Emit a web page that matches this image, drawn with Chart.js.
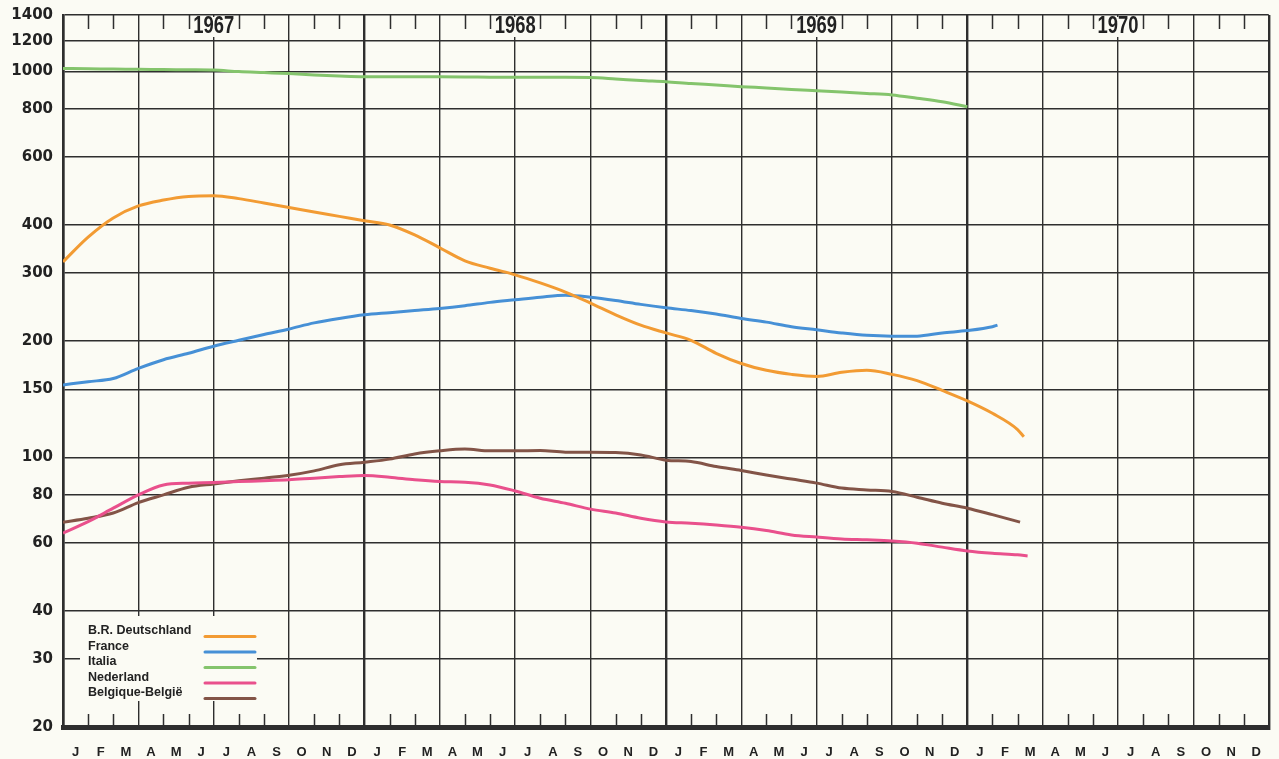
<!DOCTYPE html>
<html>
<head>
<meta charset="utf-8">
<script src="https://cdn.jsdelivr.net/npm/chart.js@4"></script>
<style>
  html, body { margin: 0; padding: 0; background: #fbfbf4; }
  canvas { display: block; }
</style>
</head>
<body>
<canvas id="chart" width="1279" height="759"></canvas>
<script>
// Years shown across the top, month initials along the bottom
const years = ['1967', '1968', '1969', '1970'];
const monthLetters = ['J', 'F', 'M', 'A', 'M', 'J', 'J', 'A', 'S', 'O', 'N', 'D'];
const yTicks = [20, 30, 40, 60, 80, 100, 150, 200, 300, 400, 600, 800, 1000, 1200, 1400];

// Monthly values; point i sits at month i (0 = start of January 1967)
const deutschland = [321, 372, 417, 448, 464, 474, 476, 468, 456, 444, 432, 421, 410, 400, 377, 349,
  323, 309, 297, 283, 268, 251, 234, 220, 210, 201, 186, 175, 168, 164, 162, 166, 168, 164, 158,
  149, 140, 130, 118, 113];
const france = [154, 157, 160, 170, 179, 186, 194, 201, 208, 215, 223, 229, 234, 237, 240, 243,
  247, 252, 256, 260, 263, 260, 255, 249, 244, 240, 235, 229, 224, 218, 214, 210, 207, 206, 206,
  210, 213, 218, 220];
const italia = [1017, 1016, 1014, 1013, 1011, 1010, 1008, 999, 993, 987, 979, 973, 969, 969, 969,
  968, 967, 966, 965, 965, 965, 964, 956, 947, 940, 930, 922, 913, 906, 898, 891, 884, 877, 869,
  852, 834, 810];
const nederland = [63.6, 68.1, 73.8, 79.9, 84.8, 85.7, 86.0, 86.5, 86.9, 87.4, 88.3, 89.1, 89.7,
  88.8, 87.4, 86.5, 86.2, 84.8, 81.8, 78.3, 76.0, 73.4, 71.7, 69.5, 68.0, 67.5, 66.8, 65.9, 64.6,
  62.9, 62.1, 61.4, 61.1, 60.7, 59.9, 58.5, 57.2, 56.4, 55.9, 55.5];
const belgique = [67.9, 69.5, 71.7, 76.3, 79.9, 83.6, 85.3, 86.9, 88.3, 89.8, 92.2, 95.6, 97.1,
  98.9, 102.0, 103.9, 105.0, 103.9, 103.9, 104.1, 103.1, 103.1, 102.9, 101.4, 98.3, 97.5, 94.6,
  92.4, 90.0, 87.8, 85.7, 83.2, 82.3, 81.5, 78.8, 76.0, 73.8, 71.0, 67.9];

// Month position of the final point of each series
const lastMonth = { deutschland: 38.25, france: 37.2, italia: 36, nederland: 38.4, belgique: 38.1 };

const INK = '#222222';
const GRID = '#2e2e2e';
const PAPER = '#fbfbf4';

function toPoints(values, end) {
  return values.map((v, i) => ({ x: i === values.length - 1 ? end : i, y: v }));
}

const monthLabels = [];
years.forEach(() => monthLetters.forEach(m => monthLabels.push(m)));

const seriesStyle = { borderWidth: 3, pointRadius: 0, pointHoverRadius: 0, cubicInterpolationMode: 'monotone', fill: false, xAxisID: 'x', yAxisID: 'y' };

const datasets = [
  { label: 'B.R. Deutschland', data: toPoints(deutschland, lastMonth.deutschland), borderColor: '#f29b33' },
  { label: 'France', data: toPoints(france, lastMonth.france), borderColor: '#4690d6' },
  { label: 'Italia', data: toPoints(italia, lastMonth.italia), borderColor: '#84c46c' },
  { label: 'Nederland', data: toPoints(nederland, lastMonth.nederland), borderColor: '#e9508c' },
  { label: 'Belgique-België', data: toPoints(belgique, lastMonth.belgique), borderColor: '#835447' }
].map(d => Object.assign({}, seriesStyle, d));

// Paper background, month tick marks, year captions and the key panel
const decorations = {
  id: 'decorations',
  beforeDraw(chart) {
    const c = chart.ctx;
    c.save();
    c.fillStyle = PAPER;
    c.fillRect(0, 0, chart.width, chart.height);
    c.restore();
  },
  beforeDatasetsDraw(chart) {
    const c = chart.ctx;
    const a = chart.chartArea;
    const xs = chart.scales.x;
    c.save();
    c.strokeStyle = GRID;
    c.lineWidth = 1.5;
    for (let m = 1; m < 48; m++) {
      if (m % 3 === 0) continue;
      const px = Math.round(xs.getPixelForValue(m)) + 0.5;
      c.beginPath();
      c.moveTo(px, a.top);
      c.lineTo(px, a.top + 14);
      c.moveTo(px, a.bottom);
      c.lineTo(px, a.bottom - 13);
      c.stroke();
    }
    // condensed year captions
    c.font = "bold 23px 'Liberation Sans', Arial, sans-serif";
    c.textAlign = 'center';
    c.textBaseline = 'middle';
    years.forEach((yr, k) => {
      const cx = xs.getPixelForValue(k * 12 + 6);
      const w = c.measureText(yr).width * 0.8;
      c.fillStyle = PAPER;
      c.fillRect(cx - w / 2 - 2, a.top + 2, w + 4, 20);
      c.save();
      c.translate(cx, a.top + 12);
      c.scale(0.8, 1);
      c.fillStyle = INK;
      c.fillText(yr, 0, 0);
      c.restore();
    });
    c.restore();
  },
  afterDatasetsDraw(chart) {
    const c = chart.ctx;
    const a = chart.chartArea;
    c.save();
    c.fillStyle = PAPER;
    c.fillRect(a.left + 17, a.bottom - 111, 177, 85);
    c.font = "bold 12.5px 'Liberation Sans', Arial, sans-serif";
    c.textAlign = 'left';
    c.textBaseline = 'middle';
    chart.data.datasets.forEach((ds, i) => {
      const ty = a.bottom - 96 + i * 15.5;
      c.fillStyle = INK;
      c.fillText(ds.label, a.left + 25, ty);
      c.strokeStyle = ds.borderColor;
      c.lineWidth = 3;
      c.lineCap = 'round';
      c.beginPath();
      c.moveTo(a.left + 142, ty + 5.5);
      c.lineTo(a.left + 192, ty + 5.5);
      c.stroke();
    });
    c.restore();
  }
};

new Chart(document.getElementById('chart'), {
  type: 'line',
  data: { datasets },
  options: {
    responsive: false,
    animation: false,
    devicePixelRatio: 1,
    layout: { padding: { top: 15, right: 6, left: 0, bottom: 0 } },
    plugins: { legend: { display: false }, tooltip: { enabled: false } },
    scales: {
      x: {
        type: 'linear',
        position: 'bottom',
        min: 0,
        max: 48,
        afterBuildTicks(scale) {
          const t = [];
          for (let m = 0; m <= 48; m += 3) t.push({ value: m });
          scale.ticks = t;
        },
        ticks: { display: false },
        grid: {
          color: GRID,
          drawTicks: false,
          lineWidth: ctx => (ctx.tick && ctx.tick.value % 12 === 0) ? 2.4 : 1.4
        },
        border: { display: true, color: GRID, width: 5 },
        afterFit(scale) { scale.height = 0; }
      },
      xm: {
        type: 'category',
        position: 'bottom',
        labels: monthLabels,
        offset: true,
        grid: { display: false, drawTicks: false },
        border: { display: false },
        ticks: {
          autoSkip: false,
          maxRotation: 0,
          padding: 18,
          color: INK,
          font: { family: "'Liberation Sans', Arial, sans-serif", weight: 'bold', size: 13 }
        },
        afterFit(scale) { scale.height = 32; }
      },
      y: {
        type: 'logarithmic',
        min: 20,
        max: 1400,
        afterBuildTicks(scale) { scale.ticks = yTicks.map(v => ({ value: v })); },
        ticks: {
          callback: v => String(v),
          padding: 10,
          color: INK,
          font: { family: "'DejaVu Sans', sans-serif", weight: 'bold', size: 15 }
        },
        grid: { color: GRID, lineWidth: 1.4, drawTicks: false },
        border: { color: GRID, width: 2.5 },
        afterFit(scale) {
          scale.width = 63;
          scale.paddingTop = 0;
          scale.paddingBottom = 0;
        }
      }
    }
  },
  plugins: [decorations]
});
</script>
</body>
</html>
